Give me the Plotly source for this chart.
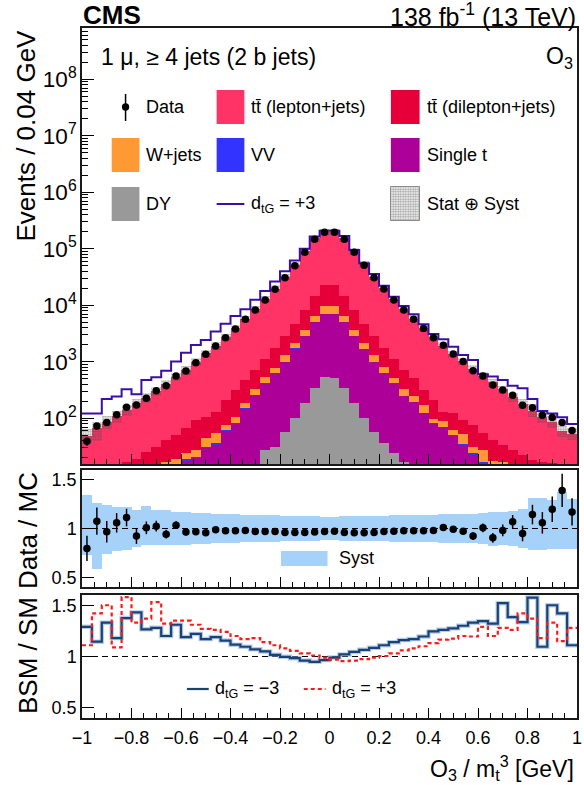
import numpy as np
import plotly.graph_objects as go

# ---------------------------------------------------------------- binning
bin_lo, bin_hi, n_bins = -1.0, 1.0, 50

# ---------------------------------------------------------------- yields per bin (events / 0.04 GeV)
data_obs = [39, 73, 84, 115, 156, 172, 226, 308, 378, 561,
            687, 966, 1355, 1905, 2673, 3811, 5650, 8260, 12420, 19180,
            30860, 50300, 86640, 147200, 195700, 196100, 147200, 86640, 51000, 30860,
            19450, 12420, 8260, 5650, 3864, 2673, 1958, 1375, 1007, 697,
            561, 389, 317, 255, 170, 154, 113, 103, 84, 61]

tt_lepjets = [42, 60, 77, 96, 123, 168, 199, 269, 360, 492,
              647, 907, 1310, 1800, 2530, 3590, 5290, 7810, 11700, 18100,
              29300, 47800, 82100, 138200, 179100, 178200, 138900, 82400, 48700, 29300,
              18300, 11700, 7750, 5280, 3640, 2520, 1810, 1260, 942, 680,
              503, 389, 290, 211, 157, 116, 90, 70, 47, 41]

tt_dilep = [2.5, 3.5, 4.8, 6.5, 9.2, 9.3, 14, 17.5, 24, 32,
            42, 65, 63, 77, 135, 210, 291, 390, 561, 967,
            1544, 2547, 4605, 8150, 13180, 13180, 8150, 4605, 2547, 1544,
            936, 597, 386, 258, 145, 114, 41, 60, 41, 44.5,
            26.5, 23, 16.7, 15.5, 12.4, 9.8, 10, 10, 8, 6.8]

wjets = [0.5, 0.5, 0.7, 1.0, 1.3, 1.5, 2, 3, 4, 3.6,
         5.9, 6.5, 12.5, 18, 14, 25.5, 35, 67, 130, 142,
         314, 389, 790, 1330, 2700, 2700, 1330, 790, 460, 314,
         173, 94, 78, 55, 46, 15.5, 21, 11.3, 17, 7.5,
         10.5, 2.8, 5, 2, 1.5, 1.5, 1, 1, 1, 0.7]

diboson = [0.3, 0.3, 0.4, 0.4, 0.5, 0.5, 0.6, 0.7, 0.8, 1.0,
           1.2, 1.5, 1.8, 2.2, 2.8, 3.5, 4.5, 6, 8, 11,
           16, 24, 38, 55, 70, 70, 55, 38, 24, 16,
           11, 8, 6, 4.5, 3.5, 2.8, 2.2, 1.8, 1.5, 1.2,
           1.0, 0.8, 0.7, 0.6, 0.5, 0.5, 0.4, 0.4, 0.3, 0.3]

single_top = [1.7, 2.7, 3.1, 4.1, 4.0, 5.5, 6.4, 8.3, 9.2, 11.2,
              14.6, 15.5, 25.7, 28.8, 53, 70, 135, 240, 381, 583,
              935, 1610, 2638, 4745, 6404, 6440, 4745, 2643, 1539, 933,
              578, 384, 229, 180, 113, 72, 61, 44, 29.5, 18.8,
              13, 11.2, 9.3, 7.4, 6, 4.5, 4.6, 3.6, 2.7, 2.2]

drell_yan = [1, 1, 1, 1, 2, 2, 2, 2, 3, 3,
             3, 4, 4, 5, 6, 8, 10, 13, 27, 31,
             56, 100, 189, 340, 546, 510, 340, 184, 100, 58,
             36, 24, 17, 12, 9, 7, 6, 5, 4, 4,
             3, 3, 2, 2, 2, 2, 1, 1, 1, 1]

# total prediction with d_tG = +3
dtg_plus3 = [122, 122, 220, 242, 326, 265, 476, 531, 697, 1007,
             1452, 1986, 2432, 3420, 4730, 6470, 8500, 12500, 18000, 26500,
             40000, 62000, 100000, 165000, 209500, 209500, 168600, 95300, 55300, 35830,
             22270, 14220, 9720, 6925, 4607, 3105, 2500, 1854, 1321, 1076,
             600, 546, 476, 378, 340, 220, 135, 122, 104, 79]

# data / MC ratio with its statistical uncertainty
data_mc_ratio = [0.796, 1.075, 0.966, 1.058, 1.112, 0.922, 1.007, 1.024, 0.942, 1.034,
                 0.963, 0.966, 0.956, 0.986, 0.976, 0.976, 0.980, 0.969, 0.969, 0.969,
                 0.959, 0.959, 0.959, 0.963, 0.969, 0.973, 0.959, 0.956, 0.956, 0.959,
                 0.969, 0.973, 0.976, 0.976, 0.976, 0.980, 1.010, 0.993, 0.973, 0.922,
                 1.007, 0.905, 0.980, 1.068, 0.949, 1.143, 1.058, 1.197, 1.391, 1.170]
data_mc_err = [0.13, 0.14, 0.11, 0.10, 0.09, 0.08, 0.065, 0.055, 0.045, 0.04,
               0.035, 0.03, 0.025, 0.022, 0.02, 0.016, 0.013, 0.011, 0.009, 0.007,
               0.005, 0.005, 0.005, 0.005, 0.005, 0.005, 0.005, 0.005, 0.005, 0.005,
               0.007, 0.009, 0.011, 0.013, 0.016, 0.02, 0.023, 0.027, 0.032, 0.04,
               0.045, 0.05, 0.06, 0.07, 0.08, 0.10, 0.11, 0.13, 0.17, 0.14]

# relative systematic uncertainty (up / down)
syst_up = [0.34, 0.26, 0.24, 0.22, 0.22, 0.19, 0.23, 0.19, 0.19, 0.17,
           0.17, 0.16, 0.16, 0.15, 0.15, 0.145, 0.14, 0.14, 0.135, 0.135,
           0.13, 0.13, 0.125, 0.125, 0.12, 0.12, 0.125, 0.125, 0.13, 0.13,
           0.13, 0.135, 0.135, 0.14, 0.14, 0.14, 0.145, 0.145, 0.15, 0.15,
           0.16, 0.17, 0.17, 0.18, 0.20, 0.31, 0.31, 0.29, 0.37, 0.30]
syst_dn = [0.27, 0.42, 0.26, 0.23, 0.22, 0.19, 0.17, 0.17, 0.17, 0.17,
           0.17, 0.16, 0.16, 0.15, 0.15, 0.145, 0.14, 0.14, 0.135, 0.135,
           0.13, 0.13, 0.125, 0.125, 0.12, 0.12, 0.125, 0.125, 0.13, 0.13,
           0.13, 0.135, 0.135, 0.14, 0.14, 0.14, 0.145, 0.145, 0.15, 0.15,
           0.16, 0.18, 0.17, 0.18, 0.20, 0.22, 0.22, 0.21, 0.21, 0.21]

# BSM / SM ratios
bsm_minus3 = [1.29, 1.145, 1.33, 1.18, 1.375, 1.43, 1.265, 1.28, 1.20, 1.31,
              1.19, 1.22, 1.17, 1.19, 1.155, 1.115, 1.095, 1.07, 1.05, 1.016,
              0.997, 0.984, 0.96, 0.948, 0.965, 0.99, 1.02, 1.045, 1.065, 1.085,
              1.11, 1.14, 1.16, 1.17, 1.195, 1.245, 1.26, 1.275, 1.30, 1.33,
              1.345, 1.32, 1.52, 1.385, 1.335, 1.575, 1.095, 1.50, 1.42, 1.11]
bsm_plus3 = [1.11, 1.42, 1.50, 1.09, 1.58, 1.33, 1.37, 1.53, 1.32, 1.35,
             1.35, 1.31, 1.27, 1.26, 1.24, 1.20, 1.17, 1.18, 1.14, 1.11,
             1.08, 1.055, 1.03, 1.01, 0.99, 0.97, 0.955, 0.96, 0.975, 0.99,
             1.005, 1.03, 1.06, 1.08, 1.10, 1.13, 1.165, 1.175, 1.20, 1.195,
             1.29, 1.20, 1.28, 1.26, 1.42, 1.37, 1.18, 1.33, 1.15, 1.28]

x_tick_vals = [-1, -0.8, -0.6, -0.4, -0.2, 0, 0.2, 0.4, 0.6, 0.8, 1]
x_tick_text = ["\u22121", "\u22120.8", "\u22120.6", "\u22120.4", "\u22120.2", "0",
               "0.2", "0.4", "0.6", "0.8", "1"]
ratio_tick_vals = [0.5, 1, 1.5]
ratio_tick_text = ["0.5", "1", "1.5"]

# ---------------------------------------------------------------- colours
C_TTLJ = "#ff3366"
C_TTDL = "#e6003a"
C_WJ = "#ff9933"
C_VV = "#3333ff"
C_ST = "#ac0099"
C_DY = "#999999"
C_BSM = "#3a0fa6"
C_SYST = "#a6d2fa"
C_NAVY = "#1c4275"
C_RED = "#ff1a1a"
FONT = "Liberation Sans"

# ---------------------------------------------------------------- geometry
W, H = 584, 785
ML, MR, MT, MB = 82, 2, 28, 67


def fx(px):
    return (px - ML) / (W - ML - MR)


def fy(py):
    return (H - MB - py) / (H - MT - MB)


edges = np.linspace(bin_lo, bin_hi, n_bins + 1)
centers = 0.5 * (edges[:-1] + edges[1:])
bw = edges[1] - edges[0]

dy_a = np.array(drell_yan, float)
st_a = np.array(single_top, float)
vv_a = np.array(diboson, float)
wj_a = np.array(wjets, float)
dl_a = np.array(tt_dilep, float)
lj_a = np.array(tt_lepjets, float)

# stack order, bottom to top: DY, single t, VV, W+jets, tt dilepton, tt lepton+jets
cum_dy = dy_a
cum_st = cum_dy + st_a
cum_vv = cum_st + vv_a
cum_wj = cum_vv + wj_a
cum_dl = cum_wj + dl_a
cum_lj = cum_dl + lj_a
mc_total = cum_lj

up_a = np.array(syst_up)
dn_a = np.array(syst_dn)
ratio_a = np.array(data_mc_ratio)
rerr_a = np.array(data_mc_err)
data_a = np.array(data_obs, float)
data_err = data_a * rerr_a / ratio_a

fig = go.Figure()

# stacked histograms drawn as cumulative layers, tallest first
BASE = 1.0
for cum, col in [(cum_lj, C_TTLJ), (cum_dl, C_TTDL), (cum_wj, C_WJ),
                 (cum_vv, C_VV), (cum_st, C_ST), (cum_dy, C_DY)]:
    fig.add_trace(go.Bar(x=centers, y=cum - BASE, base=BASE, width=bw,
                         marker=dict(color=col, line=dict(width=0)),
                         xaxis="x", yaxis="y", showlegend=False))

# stat (+) syst band around the total prediction
band_lo = mc_total * (1 - dn_a)
band_hi = mc_total * (1 + up_a)
DOTS = dict(shape=".", fgcolor="#4a4a4a", size=2.5, solidity=0.55)
fig.add_trace(go.Bar(x=centers, y=band_hi - band_lo, base=band_lo, width=bw,
                     marker=dict(color="rgba(255,255,255,0)", line=dict(width=0),
                                 pattern=DOTS),
                     xaxis="x", yaxis="y", showlegend=False))

# d_tG = +3 prediction
fig.add_trace(go.Scatter(x=edges, y=list(dtg_plus3) + [dtg_plus3[-1]], mode="lines",
                         line=dict(color=C_BSM, width=2, shape="hv"),
                         xaxis="x", yaxis="y", showlegend=False))

# data
fig.add_trace(go.Scatter(x=centers, y=data_a, mode="markers",
                         marker=dict(color="black", size=7.5),
                         error_y=dict(type="data", array=data_err, color="black",
                                      thickness=1.5, width=0),
                         xaxis="x", yaxis="y", showlegend=False))

# ---------------- ratio panel: data / MC
fig.add_trace(go.Bar(x=centers, y=up_a + dn_a, base=1 - dn_a, width=bw,
                     marker=dict(color=C_SYST, line=dict(width=0)),
                     xaxis="x2", yaxis="y2", showlegend=False))
fig.add_trace(go.Scatter(x=[bin_lo, bin_hi], y=[1, 1], mode="lines",
                         line=dict(color="black", width=1, dash="6px,4px"),
                         xaxis="x2", yaxis="y2", showlegend=False))
fig.add_trace(go.Scatter(x=centers, y=ratio_a, mode="markers",
                         marker=dict(color="black", size=7.5),
                         error_y=dict(type="data", array=rerr_a, color="black",
                                      thickness=1.5, width=0),
                         xaxis="x2", yaxis="y2", showlegend=False))

# ---------------- ratio panel: BSM / SM
fig.add_trace(go.Scatter(x=[bin_lo, bin_hi], y=[1, 1], mode="lines",
                         line=dict(color="black", width=1, dash="6px,4px"),
                         xaxis="x3", yaxis="y3", showlegend=False))
fig.add_trace(go.Scatter(x=edges, y=list(bsm_minus3) + [bsm_minus3[-1]], mode="lines",
                         line=dict(color="rgba(120,165,215,0.55)", width=4.5, shape="hv"),
                         xaxis="x3", yaxis="y3", showlegend=False))
fig.add_trace(go.Scatter(x=edges, y=list(bsm_minus3) + [bsm_minus3[-1]], mode="lines",
                         line=dict(color=C_NAVY, width=2.2, shape="hv"),
                         xaxis="x3", yaxis="y3", showlegend=False))
fig.add_trace(go.Scatter(x=edges, y=list(bsm_plus3) + [bsm_plus3[-1]], mode="lines",
                         line=dict(color=C_RED, width=2.2, shape="hv", dash="4px,3px"),
                         xaxis="x3", yaxis="y3", showlegend=False))

# patterned legend swatch (pixel-coordinate overlay on the main panel)
fig.add_trace(go.Bar(x=[408.5], y=[34], base=[187], width=[29],
                     marker=dict(color="rgba(255,255,255,1)", line=dict(color="#8a8a8a", width=1),
                                 pattern=DOTS),
                     xaxis="x4", yaxis="y4", showlegend=False))

# ---------------------------------------------------------------- axes
dom_main = [fy(464), 1.0]
dom_r1 = [fy(587), fy(470)]
dom_r2 = [0.0, fy(595)]

frame = dict(showline=True, mirror=True, linecolor="#1a1a1a", linewidth=1.5,
             showgrid=False, zeroline=False)
tickfont = dict(family=FONT, size=18, color="black")

xcommon = dict(range=[bin_lo, bin_hi], tickmode="array", tickvals=x_tick_vals,
               ticktext=x_tick_text, ticks="inside", ticklen=10, tickwidth=1,
               tickcolor="black",
               minor=dict(ticks="inside", ticklen=5, tickwidth=1, tickcolor="black",
                          tickmode="linear", tick0=-1, dtick=0.05),
               tickfont=tickfont, **frame)

ratio_y = dict(range=[0.4, 1.6], tickmode="array", tickvals=ratio_tick_vals,
               ticktext=ratio_tick_text, ticks="inside", ticklen=12, tickwidth=1,
               tickcolor="black", tickfont=tickfont, **frame)

fig.update_layout(
    width=W, height=H,
    margin=dict(l=ML, r=MR, t=MT, b=MB, pad=0),
    paper_bgcolor="white", plot_bgcolor="rgba(0,0,0,0)",
    barmode="overlay", bargap=0,
    font=dict(family=FONT, color="black"),
    xaxis=dict(domain=[0, 1], anchor="y", showticklabels=False, **xcommon),
    yaxis=dict(domain=dom_main, anchor="x", type="log", range=[1.19, 8.91],
               dtick=1, exponentformat="power", ticks="inside", ticklen=12,
               tickwidth=1, tickcolor="black",
               minor=dict(ticks="inside", ticklen=6, tickwidth=1, tickcolor="black",
                          dtick="D1"),
               tickfont=tickfont, **frame),
    xaxis2=dict(domain=[0, 1], anchor="y2", showticklabels=False, **xcommon),
    yaxis2=dict(domain=dom_r1, anchor="x2", **ratio_y),
    xaxis3=dict(domain=[0, 1], anchor="y3", showticklabels=True,
                ticklabelstandoff=3, ticklabeloverflow="allow", **xcommon),
    yaxis3=dict(domain=dom_r2, anchor="x3", **ratio_y),
    xaxis4=dict(overlaying="x", range=[ML, W - MR], visible=False, fixedrange=True),
    yaxis4=dict(overlaying="y", range=[464, MT], visible=False, fixedrange=True),
)

# ---------------------------------------------------------------- legend swatches
shapes = []


def box(x0, x1, yc, color, h=34):
    shapes.append(dict(type="rect", xref="paper", yref="paper",
                       x0=fx(x0), x1=fx(x1), y0=fy(yc + h / 2), y1=fy(yc - h / 2),
                       fillcolor=color, line=dict(width=0)))


ROW1, ROW2, ROW3 = 107, 155, 204
box(218, 246, ROW1, C_TTLJ)
box(394, 423, ROW1, C_TTDL)
box(112, 140, ROW2, C_WJ)
box(218, 246, ROW2, C_VV)
box(394, 423, ROW2, C_ST)
box(112, 140, ROW3, C_DY)
# data marker in the legend
shapes.append(dict(type="line", xref="paper", yref="paper", x0=fx(126), x1=fx(126),
                   y0=fy(94), y1=fy(121), line=dict(color="black", width=1.5)))
shapes.append(dict(type="circle", xref="paper", yref="paper", x0=fx(122.3), x1=fx(129.7),
                   y0=fy(ROW1 + 3.7), y1=fy(ROW1 - 3.7), fillcolor="black",
                   line=dict(width=0)))
# d_tG = +3 line in the legend
shapes.append(dict(type="line", xref="paper", yref="paper", x0=fx(218), x1=fx(246),
                   y0=fy(ROW3), y1=fy(ROW3), line=dict(color=C_BSM, width=2)))
# Syst swatch (data/MC panel)
shapes.append(dict(type="rect", xref="paper", yref="paper", x0=fx(283), x1=fx(330),
                   y0=fy(566), y1=fy(551), fillcolor=C_SYST, line=dict(width=0)))
# BSM/SM legend lines
shapes.append(dict(type="line", xref="paper", yref="paper", x0=fx(188), x1=fx(210),
                   y0=fy(689), y1=fy(689), line=dict(color=C_NAVY, width=2.2)))
shapes.append(dict(type="line", xref="paper", yref="paper", x0=fx(306), x1=fx(328),
                   y0=fy(689), y1=fy(689), line=dict(color=C_RED, width=2.2, dash="4px,3px")))
fig.update_layout(shapes=shapes)

# ---------------------------------------------------------------- text
ann = []


def text(s, px, py, size, xanchor="left", yanchor="middle", angle=0, **kw):
    ann.append(dict(text=s, x=fx(px), y=fy(py), xref="paper", yref="paper",
                    xanchor=xanchor, yanchor=yanchor, showarrow=False, textangle=angle,
                    font=dict(family=FONT, size=size, color="black", **kw)))


text("<b>CMS</b>", 81, 15, 26)
text("138 fb<sup>-1</sup> (13 TeV)", 583, 15, 25, xanchor="right")
text("1 \u03bc, \u2265 4 jets (2 b jets)", 99, 57, 23)
text("O<sub>3</sub>", 580, 57, 23, xanchor="right")

LEG = 18
text("Data", 145, ROW1, LEG)
text("tt\u0304 (lepton+jets)", 251, ROW1, LEG)
text("tt\u0304 (dilepton+jets)", 428, ROW1, LEG)
text("W+jets", 145, ROW2, LEG)
text("VV", 251, ROW2, LEG)
text("Single t", 428, ROW2, LEG)
text("DY", 145, ROW3, LEG)
text("d<sub>tG</sub> = +3", 251, ROW3, LEG)
text("Stat \u2295 Syst", 428, ROW3, LEG)

text("Syst", 340, 558, LEG)
text("d<sub>tG</sub> = \u22123", 214, 689, LEG)
text("d<sub>tG</sub> = +3", 332, 689, LEG)

# axis titles
text("Events / 0.04 GeV", 25, 28, 26, xanchor="center", yanchor="top", angle=-90)
text("Data / MC", 27, 470, 26, xanchor="center", yanchor="top", angle=-90)
text("BSM / SM", 27, 595, 26, xanchor="center", yanchor="top", angle=-90)
text("O<sub>3</sub> / m<sub>t</sub><sup>3</sup> [GeV]", 581, 768, 23, xanchor="right")

fig.update_layout(annotations=ann)

fig.write_html("out.html")
